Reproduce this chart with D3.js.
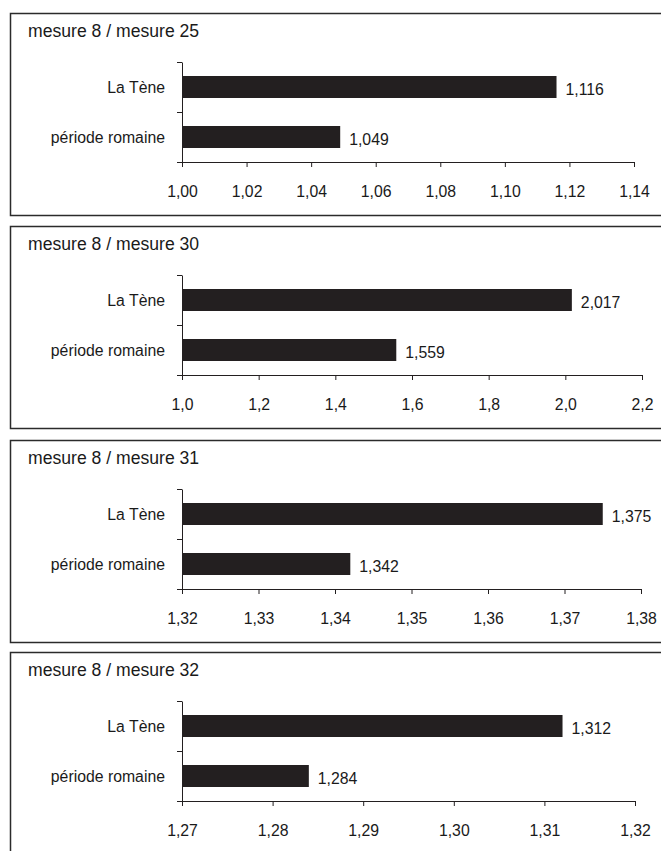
<!DOCTYPE html>
<html>
<head>
<meta charset="utf-8">
<script src="https://cdn.jsdelivr.net/npm/d3@7/dist/d3.min.js"></script>
<style>
  html, body { margin: 0; padding: 0; background: #fff; }
  svg { display: block; font-family: "Liberation Sans", Arial, Helvetica, sans-serif; }
</style>
</head>
<body>
<svg id="chart" width="661" height="851"></svg>
<script>
// ---- data ----
const categories = ["La Tène", "période romaine"];
const titles = ["mesure 8 / mesure 25", "mesure 8 / mesure 30", "mesure 8 / mesure 31", "mesure 8 / mesure 32"];
const values25 = [1.116, 1.049];
const values30 = [2.017, 1.559];
const values31 = [1.375, 1.342];
const values32 = [1.312, 1.284];
const ticks25 = [1.00, 1.02, 1.04, 1.06, 1.08, 1.10, 1.12, 1.14];
const ticks30 = [1.0, 1.2, 1.4, 1.6, 1.8, 2.0, 2.2];
const ticks31 = [1.32, 1.33, 1.34, 1.35, 1.36, 1.37, 1.38];
const ticks32 = [1.27, 1.28, 1.29, 1.30, 1.31, 1.32];
const decimals = [2, 1, 2, 2];

// ---- layout ----
const panelTops = [13, 226, 440, 652];
const axisRight = [634, 642, 641, 635];
const panels = [
  { title: titles[0], values: values25, ticks: ticks25 },
  { title: titles[1], values: values30, ticks: ticks30 },
  { title: titles[2], values: values31, ticks: ticks31 },
  { title: titles[3], values: values32, ticks: ticks32 }
];
const ink = "#231f20";
const txt = "#1a1a1a";
const labelSize = 15.8;
const svg = d3.select("#chart");
const fmt = d => (v => v.toFixed(d).replace(".", ","));

panels.forEach((p, i) => {
  const top = panelTops[i];
  const g = svg.append("g").attr("transform", `translate(0,${top})`);

  // frame
  g.append("rect")
    .attr("x", 10.5).attr("y", 0.5)
    .attr("width", 700).attr("height", 202)
    .attr("fill", "none").attr("stroke", "#2b2b2b").attr("stroke-width", 1.5);

  g.append("text")
    .attr("x", 28).attr("y", 24)
    .attr("font-size", 17.6).attr("fill", txt)
    .text(p.title);

  const x = d3.scaleLinear()
    .domain([p.ticks[0], p.ticks[p.ticks.length - 1]])
    .range([182, axisRight[i]]);
  const y = d3.scaleBand()
    .domain(categories)
    .range([49, 149])
    .paddingInner(0.56)
    .paddingOuter(0.28);

  // bars
  g.selectAll("rect.bar").data(categories).enter().append("rect")
    .attr("class", "bar")
    .attr("x", x(p.ticks[0]))
    .attr("y", c => y(c))
    .attr("width", (c, k) => x(p.values[k]) - x(p.ticks[0]))
    .attr("height", y.bandwidth())
    .attr("fill", ink);

  // value labels
  g.selectAll("text.val").data(categories).enter().append("text")
    .attr("class", "val")
    .attr("x", (c, k) => x(p.values[k]) + 9)
    .attr("y", c => y(c) + y.bandwidth() / 2 + 7.5)
    .attr("font-size", labelSize).attr("fill", txt)
    .text((c, k) => fmt(3)(p.values[k]));

  // x axis
  const xAxis = d3.axisBottom(x)
    .tickValues(p.ticks)
    .tickSize(5)
    .tickSizeOuter(0)
    .tickPadding(19)
    .tickFormat(fmt(decimals[i]));
  const ax = g.append("g").attr("transform", "translate(0,149)").call(xAxis);
  ax.select(".domain").attr("stroke", ink);
  ax.selectAll(".tick line").attr("stroke", ink);
  ax.selectAll(".tick text").attr("font-size", labelSize).attr("fill", txt)
    .attr("font-family", "Liberation Sans, Arial, sans-serif");

  // y axis (category boundaries as ticks)
  const yLine = d3.scaleLinear().domain([0, 2]).range([49, 149]);
  const yAxis = d3.axisLeft(yLine).tickValues([0, 1, 2]).tickSize(5).tickSizeOuter(0).tickFormat("");
  const ay = g.append("g").attr("transform", "translate(182,0)").call(yAxis);
  ay.select(".domain").attr("stroke", ink);
  ay.selectAll(".tick line").attr("stroke", ink);

  // category labels
  g.selectAll("text.cat").data(categories).enter().append("text")
    .attr("class", "cat")
    .attr("x", 165)
    .attr("y", c => y(c) + y.bandwidth() / 2 + 5.5)
    .attr("text-anchor", "end")
    .attr("font-size", labelSize).attr("fill", txt)
    .text(c => c);
});
</script>
</body>
</html>
